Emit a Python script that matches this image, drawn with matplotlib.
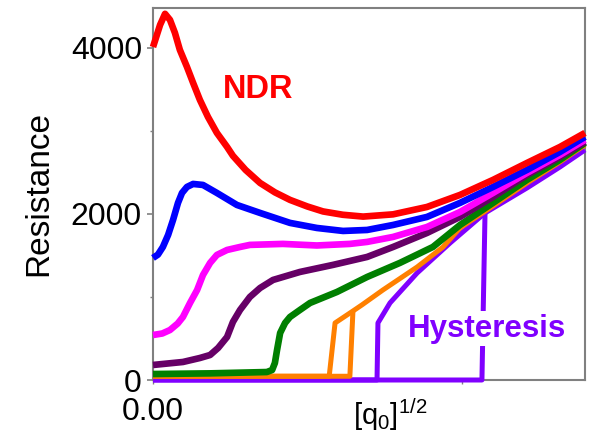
import matplotlib
matplotlib.use("Agg")
import matplotlib.pyplot as plt
from matplotlib.ticker import FixedLocator

plt.rcParams['font.family'] = ['Liberation Sans', 'DejaVu Sans']
plt.rcParams['mathtext.default'] = 'regular'

# ---- data (x in units of [q0]^1/2, arbitrary; y = resistance) ----
red_x = [0, 0.023, 0.039, 0.055, 0.071, 0.087, 0.110, 0.130, 0.152, 0.178, 0.207,
         0.240, 0.259, 0.300, 0.347, 0.395, 0.444, 0.500, 0.551, 0.615, 0.681,
         0.778, 0.888, 0.995, 1.102, 1.212, 1.319, 1.40]
red_y = [4010, 4277, 4410, 4337, 4181, 3976, 3771, 3578, 3373, 3169, 2976,
         2807, 2700, 2530, 2373, 2260, 2169, 2090, 2030, 1990, 1968,
         1995, 2084, 2229, 2410, 2614, 2807, 2976]

blue_x = [0, 0.016, 0.032, 0.049, 0.065, 0.081, 0.094, 0.110, 0.130, 0.162, 0.207,
          0.272, 0.347, 0.444, 0.531, 0.616, 0.694, 0.778, 0.888, 0.995, 1.102,
          1.212, 1.319, 1.40]
blue_y = [1470, 1510, 1602, 1747, 1928, 2133, 2253, 2325, 2361, 2349, 2253,
          2108, 2012, 1892, 1831, 1795, 1807, 1867, 1964, 2133, 2325,
          2530, 2747, 2928]

magenta_x = [0, 0.030, 0.055, 0.080, 0.097, 0.120, 0.143, 0.162, 0.185, 0.207,
             0.240, 0.282, 0.314, 0.421, 0.531, 0.638, 0.694, 0.778, 0.888,
             0.995, 1.102, 1.212, 1.319, 1.40]
magenta_y = [542, 560, 602, 680, 759, 928, 1084, 1265, 1410, 1506,
             1566, 1602, 1627, 1639, 1620, 1639, 1663, 1723, 1843,
             2024, 2253, 2494, 2711, 2892]

purple_x = [0, 0.097, 0.152, 0.185, 0.211, 0.240, 0.259, 0.282, 0.314, 0.347,
            0.389, 0.476, 0.583, 0.694, 0.778, 0.888, 0.995, 1.102, 1.212,
            1.319, 1.40]
purple_y = [181, 217, 265, 301, 386, 518, 699, 843, 1000, 1108,
            1205, 1301, 1386, 1482, 1602, 1771, 1964, 2205, 2470,
            2687, 2868]

green_x = [0, 0.185, 0.369, 0.386, 0.395, 0.402, 0.412, 0.428, 0.444, 0.476,
           0.509, 0.596, 0.694, 0.800, 0.907, 0.995, 1.102, 1.212, 1.319, 1.40]
green_y = [72, 80, 96, 120, 205, 361, 566, 687, 759, 843,
           928, 1060, 1241, 1410, 1602, 1867, 2133, 2410, 2651, 2855]

orange_down_x = [0, 0.571, 0.590, 0.648, 0.677, 0.745, 0.856, 0.940, 0.995,
                 1.102, 1.212, 1.319, 1.40]
orange_down_y = [45, 45, 687, 831, 904, 1084, 1361, 1602, 1831,
                 2096, 2373, 2626, 2831]
orange_up_x = [0, 0.638, 0.648]
orange_up_y = [45, 45, 831]

violet_down_x = [0, 0.726, 0.729, 0.768, 0.856, 0.963, 1.076, 1.212, 1.319, 1.40]
violet_down_y = [0, 0, 687, 928, 1289, 1651, 2012, 2313, 2566, 2771]
violet_up_x = [0, 1.066, 1.076]
violet_up_y = [0, 0, 2012]

ytick_vals = [0, 2000, 4000]
ytick_labels = ['0', '2000', '4000']
xtick_vals = [0, 1.0]
xtick_labels = ['0.00', '']

# ---- figure ----
fig = plt.figure(figsize=(5.92, 4.38), dpi=100)
ax = fig.add_axes([153/592, 1 - 380/438, 432/592, 372/438])

lw = 4.8
lw2 = 3.6
common = dict(clip_on=False, solid_capstyle='butt', solid_joinstyle='round')
ax.plot(violet_down_x, violet_down_y, color='#8000ff', lw=lw2, zorder=2, **common)
ax.plot(violet_up_x, violet_up_y, color='#8000ff', lw=lw2, zorder=2, **common)
ax.plot(orange_down_x, orange_down_y, color='#ff8000', lw=lw2, zorder=3, **common)
ax.plot(orange_up_x, orange_up_y, color='#ff8000', lw=lw2, zorder=3, **common)
ax.plot(green_x, green_y, color='#007f00', lw=lw, zorder=4, **common)
ax.plot(purple_x, purple_y, color='#660066', lw=lw, zorder=5, **common)
ax.plot(magenta_x, magenta_y, color='#ff00ff', lw=lw, zorder=6, **common)
ax.plot(blue_x, blue_y, color='#0000ff', lw=lw, zorder=7, **common)
ax.plot(red_x, red_y, color='#ff0000', lw=lw, zorder=8, **common)

ax.set_xlim(0, 1.4)
ax.set_ylim(0, 4480)

ax.set_yticks(ytick_vals)
ax.set_yticklabels(ytick_labels)
ax.yaxis.set_minor_locator(FixedLocator([1000, 3000]))
ax.set_xticks(xtick_vals)
ax.set_xticklabels(xtick_labels)

for s in ax.spines.values():
    s.set_color('#808080')
    s.set_linewidth(1.5)
    s.set_zorder(1)

ax.tick_params(axis='y', which='major', direction='out', length=4, width=1.2,
               color='#808080', labelsize=23, pad=4)
ax.tick_params(axis='y', which='minor', direction='out', length=2.5, width=1.0,
               color='#808080')
ax.tick_params(axis='x', which='major', direction='out', length=3, width=1.0,
               color='#808080', labelsize=23, pad=9)

ax.set_ylabel('Resistance', fontsize=24, labelpad=12)
ax.set_xlabel(r'[q$_0$]$^{1/2}$', fontsize=21)
ax.xaxis.set_label_coords(0.55, -0.045, transform=ax.transAxes)
ax.xaxis.label.set_va('top')

ax.text(0.340, 3494, 'NDR', color='#ff0000', fontsize=23.5, fontweight='bold',
        ha='center', va='center', zorder=10)
ax.text(1.082, 620, 'Hysteresis', color='#8000ff', fontsize=22.5, fontweight='bold',
        ha='center', va='center', zorder=10,
        bbox=dict(facecolor='white', edgecolor='none', pad=1.5))

fig.savefig('out.png', dpi=100)
